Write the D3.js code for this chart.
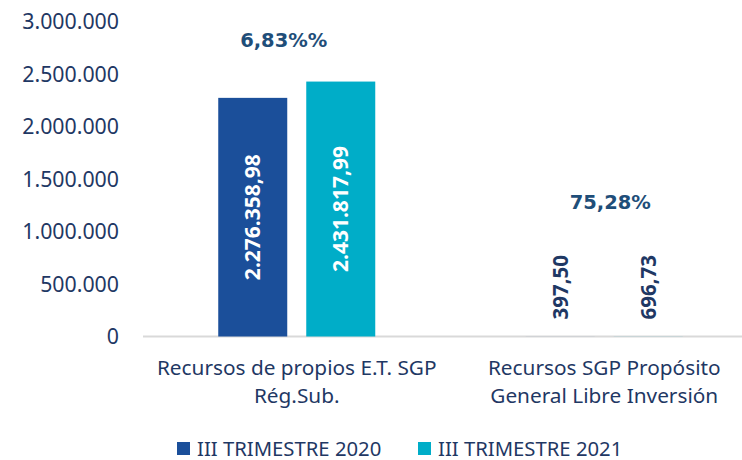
<!DOCTYPE html>
<html>
<head>
<meta charset="utf-8">
<script src="https://cdn.jsdelivr.net/npm/d3@7"></script>
<style>
  body { margin: 0; background: #fff; }
  svg { display: block; }
</style>
</head>
<body>
<div id="vis"></div>
<script>
const categories = [
  ["Recursos de propios E.T. SGP", "Rég.Sub."],
  ["Recursos SGP Propósito", "General Libre Inversión"]
];
const series = ["III TRIMESTRE 2020", "III TRIMESTRE 2021"];
const values2020 = [2276358.98, 397.50];
const values2021 = [2431817.99, 696.73];
const valueLabels2020 = ["2.276.358,98", "397,50"];
const valueLabels2021 = ["2.431.817,99", "696,73"];
const pctLabels = ["6,83%%", "75,28%"];
const yTicks = [0, 500000, 1000000, 1500000, 2000000, 2500000, 3000000];

const colors = ["#1b4f9a", "#00adc8"];
const textColor = "#1f3864";
const pctColor = "#1f4e79";

function createVis() {
  const width = 742;
  const height = 460;
  const margin = {top: 22, right: -16, bottom: 123, left: 143};

  const svg = d3.select("#vis")
    .append("svg")
    .attr("width", width)
    .attr("height", height)
    .attr("viewBox", [0, 0, width, height]);

  const x0 = d3.scaleBand()
    .domain(d3.range(categories.length))
    .range([margin.left, width - margin.right]);

  const x1 = d3.scaleBand()
    .domain(d3.range(series.length))
    .range([0, x0.bandwidth()])
    .paddingInner(0.216)
    .paddingOuter(0.855);

  const y = d3.scaleLinear()
    .domain([0, 3000000])
    .range([height - margin.bottom - 0.5, margin.top]);

  const fmt = d3.formatLocale({decimal: ",", thousands: ".", grouping: [3], currency: ["", ""]}).format(",d");

  // y axis labels
  svg.append("g")
    .selectAll("text")
    .data(yTicks)
    .join("text")
    .attr("x", 119)
    .attr("y", d => y(d))
    .attr("dy", "0.35em")
    .attr("text-anchor", "end")
    .attr("font-family", "Noto Sans")
    .attr("font-size", 21.3)
    .attr("fill", textColor)
    .text(d => fmt(d));

  // baseline
  svg.append("line")
    .attr("x1", margin.left)
    .attr("x2", width)
    .attr("y1", y(0))
    .attr("y2", y(0))
    .attr("stroke", "#d9d9d9")
    .attr("stroke-width", 2);

  const rows = categories.map((c, i) => [
    {s: 0, v: values2020[i], label: valueLabels2020[i]},
    {s: 1, v: values2021[i], label: valueLabels2021[i]}
  ]);

  const groups = svg.append("g")
    .selectAll("g")
    .data(rows)
    .join("g")
    .attr("transform", (d, i) => `translate(${x0(i)},0)`);

  groups.selectAll("rect")
    .data(d => d)
    .join("rect")
    .attr("x", d => x1(d.s))
    .attr("width", x1.bandwidth())
    .attr("y", d => y(d.v))
    .attr("height", d => y(0) - y(d.v))
    .attr("fill", d => colors[d.s]);

  // value labels, rotated
  const isTall = d => y(0) - y(d.v) > 150;
  groups.selectAll("text")
    .data(d => d)
    .join("text")
    .attr("transform", d => {
      const cx = x1(d.s) + x1.bandwidth() / 2;
      const cy = isTall(d) ? (y(0) + y(d.v)) / 2 : y(0) - 17;
      return `translate(${cx},${cy}) rotate(-90)`;
    })
    .attr("text-anchor", d => isTall(d) ? "middle" : "start")
    .attr("dy", "0.36em")
    .attr("font-family", "Noto Sans")
    .attr("font-weight", "bold")
    .attr("font-size", d => isTall(d) ? 21 : 20.5)
    .attr("fill", d => isTall(d) ? "#fff" : textColor)
    .text(d => d.label);

  // percent change labels
  svg.append("g")
    .selectAll("text")
    .data(pctLabels)
    .join("text")
    .attr("x", (d, i) => x0(i) + x0.bandwidth() / 2 + (i === 0 ? -13 : 6))
    .attr("y", (d, i) => i === 0 ? y(d3.max(rows[i], r => r.v)) - 41 : y(0) - 134)
    .attr("dy", "0.35em")
    .attr("text-anchor", "middle")
    .attr("font-family", "DejaVu Sans")
    .attr("font-weight", "bold")
    .attr("font-size", 19.5)
    .attr("fill", pctColor)
    .text(d => d);

  // category labels
  const cat = svg.append("g")
    .selectAll("text")
    .data(categories)
    .join("text")
    .attr("x", (d, i) => x0(i) + x0.bandwidth() / 2)
    .attr("y", 375)
    .attr("text-anchor", "middle")
    .attr("font-family", "Noto Sans")
    .attr("font-size", 20.8)
    .attr("fill", textColor);

  cat.selectAll("tspan")
    .data(d => d)
    .join("tspan")
    .attr("x", function() { return d3.select(this.parentNode).attr("x"); })
    .attr("dy", (d, i) => i === 0 ? 0 : 28)
    .text(d => d);

  // legend
  const legendX = [177, 418];
  const legend = svg.append("g")
    .selectAll("g")
    .data(series)
    .join("g")
    .attr("transform", (d, i) => `translate(${legendX[i]},442)`);

  legend.append("rect")
    .attr("width", 13)
    .attr("height", 13)
    .attr("fill", (d, i) => colors[i]);

  legend.append("text")
    .attr("x", 20)
    .attr("y", 13.5)
    .attr("font-family", "Noto Sans")
    .attr("font-size", 20.3)
    .attr("fill", textColor)
    .text(d => d);
}

window.addEventListener("load", createVis);
</script>
</body>
</html>
